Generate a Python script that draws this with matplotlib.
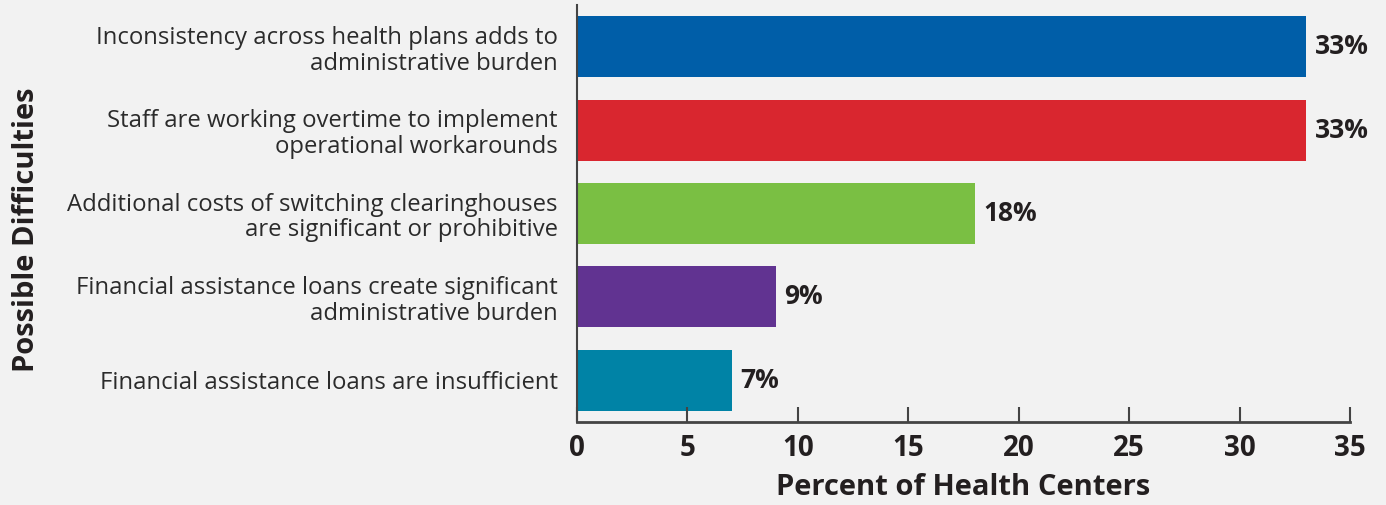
import matplotlib.pyplot as plt

categories = [
    "Inconsistency across health plans adds to\nadministrative burden",
    "Staff are working overtime to implement\noperational workarounds",
    "Additional costs of switching clearinghouses\nare significant or prohibitive",
    "Financial assistance loans create significant\nadministrative burden",
    "Financial assistance loans are insufficient",
]
values = [33, 33, 18, 9, 7]
colors = ["#005ea8", "#d9262f", "#7abf43", "#613391", "#0083a6"]
xticks = [0, 5, 10, 15, 20, 25, 30, 35]

plt.rcParams['font.family'] = ['Open Sans', 'DejaVu Sans']
text_color = "#231f20"
bg = "#f2f2f2"

fig = plt.figure(figsize=(13.86, 5.05), dpi=100, facecolor=bg)
ax = fig.add_axes([0.4163, 0.1644, 0.974 - 0.4163, 0.990 - 0.1644])
ax.set_facecolor(bg)

y = list(range(len(categories)))
ax.barh(y, values, height=0.73, color=colors)
for yi, v in zip(y, values):
    ax.text(v + 0.4, yi, f"{v}%", va="center", ha="left",
            fontsize=19, fontweight="bold", color=text_color)

ax.set_ylim(4.5, -0.5)
ax.set_xlim(0, 35)
ax.set_xticks(xticks)
ax.set_yticks(y)
ax.set_yticklabels(categories, fontsize=17.2, color="#2b2b2b", ha="right",
                   linespacing=1.1)
ax.tick_params(axis="y", length=0, pad=14)
ax.tick_params(axis="x", direction="in", length=11, width=1.5, color="#444444",
               labelsize=20, labelcolor=text_color, pad=9)
for lbl in ax.get_xticklabels():
    lbl.set_fontweight("bold")

for s in ["top", "right"]:
    ax.spines[s].set_visible(False)
ax.spines["left"].set_color("#444444")
ax.spines["left"].set_linewidth(1.5)
ax.spines["bottom"].set_color("#444444")
ax.spines["bottom"].set_linewidth(2)

ax.set_xlabel("Percent of Health Centers", fontsize=21, fontweight="bold",
              color=text_color, labelpad=7)
fig.text(0.019, 0.545, "Possible Difficulties", rotation=90, va="center", ha="center",
         fontsize=21, fontweight="bold", color=text_color)

fig.savefig("out.png", dpi=100, facecolor=bg)
